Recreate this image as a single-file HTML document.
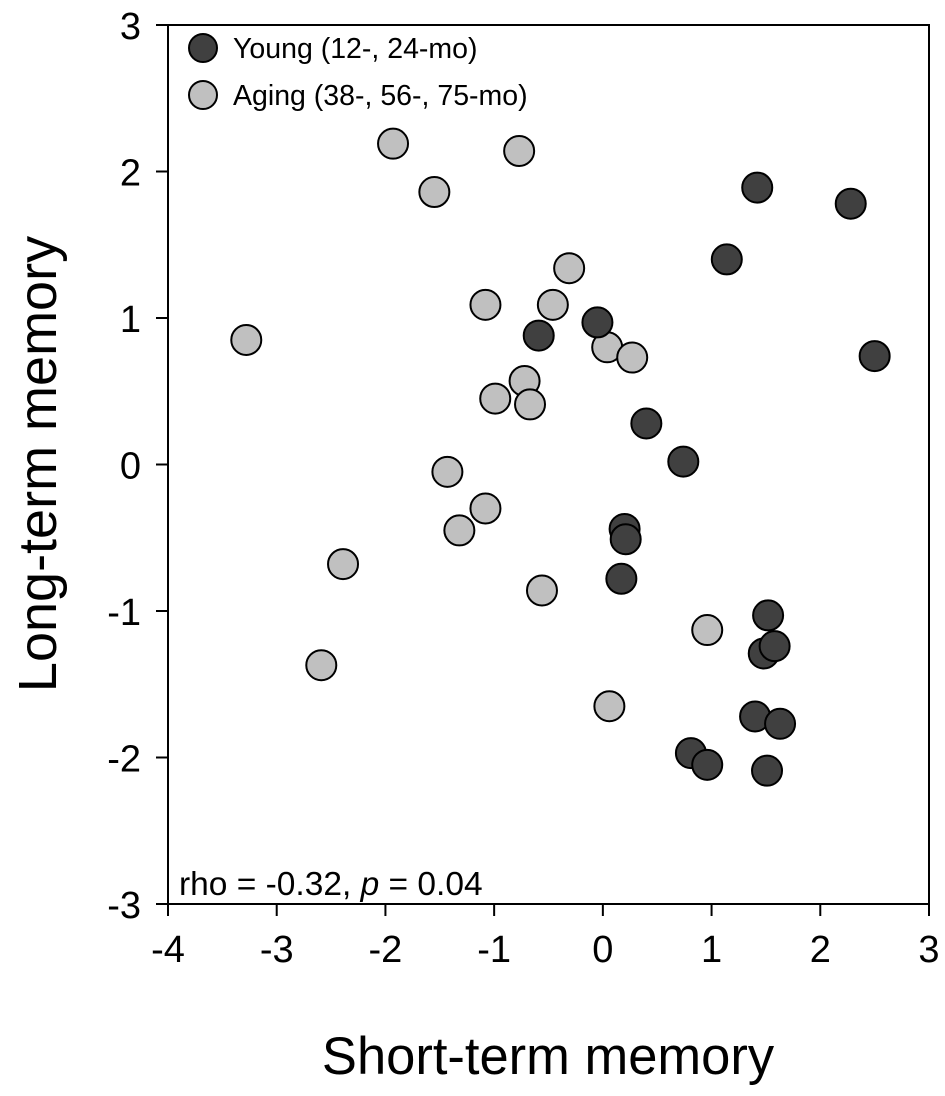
<!DOCTYPE html>
<html><head><meta charset="utf-8"><style>
body{margin:0;background:#fff}
svg text{font-family:"Liberation Sans",Arial,sans-serif;fill:#000}
</style></head><body>
<svg id="chart" width="945" height="1091" viewBox="0 0 945 1091" xmlns="http://www.w3.org/2000/svg">
<g id="axes"></g><g id="pts"></g>
<g>
<circle cx="203" cy="48" r="14" fill="#404040" stroke="#000" stroke-width="2"/>
<text x="233" y="58" font-size="28.5">Young (12-, 24-mo)</text>
<circle cx="203" cy="95" r="14" fill="#c0c0c0" stroke="#000" stroke-width="2"/>
<text x="233" y="105" font-size="28.5">Aging (38-, 56-, 75-mo)</text>
</g>
<text x="179" y="895" font-size="33.5">rho = -0.32, <tspan font-style="italic">p</tspan> = 0.04</text>
<text x="548" y="1074" font-size="52.5" text-anchor="middle">Short-term memory</text>
<text transform="translate(56,464) rotate(-90)" font-size="54" text-anchor="middle">Long-term memory</text>
</svg>
<script>
const youngX=[1.42,2.28,1.14,2.50,-0.05,-0.59,0.40,0.74,0.20,0.21,0.17,1.52,1.48,1.58,1.40,1.63,0.81,0.96,1.51];
const youngY=[1.89,1.78,1.40,0.74,0.97,0.88,0.28,0.02,-0.44,-0.51,-0.78,-1.03,-1.29,-1.24,-1.72,-1.77,-1.97,-2.05,-2.09];
const agingX=[-1.93,-0.77,-1.55,-0.31,-1.08,-0.46,-3.28,-0.72,-0.99,-0.67,-1.43,-1.08,-1.32,-2.39,-0.56,-2.59,0.04,0.27,0.96,0.06];
const agingY=[2.19,2.14,1.86,1.34,1.09,1.09,0.85,0.57,0.45,0.41,-0.05,-0.30,-0.45,-0.68,-0.86,-1.37,0.80,0.73,-1.13,-1.65];
const xTicks=[-4,-3,-2,-1,0,1,2,3];
const yTicks=[-3,-2,-1,0,1,2,3];
const L=168,R=929,T=25,B=904;
const sx=v=>L+(v+4)/7*(R-L);
const sy=v=>B-(v+3)/6*(B-T);
const NS="http://www.w3.org/2000/svg";
const ax=document.getElementById('axes'),pg=document.getElementById('pts');
function mk(p,tag,at){const e=document.createElementNS(NS,tag);for(const k in at)e.setAttribute(k,at[k]);p.appendChild(e);return e;}
const fr=mk(ax,'rect',{x:L,y:T,width:R-L,height:B-T,fill:'none',stroke:'#000','stroke-width':2});


xTicks.forEach(v=>{
 const l=mk(ax,'line',{x1:sx(v),x2:sx(v),y1:B,y2:B+12,stroke:'#000','stroke-width':2});
 
 
 const t=mk(ax,'text',{x:sx(v),y:B+58,'font-size':38,'text-anchor':'middle'});t.textContent=v;
 
 
});
yTicks.forEach(v=>{
 const l=mk(ax,'line',{x1:L-12,x2:L,y1:sy(v),y2:sy(v),stroke:'#000','stroke-width':2});
 
 
 const t=mk(ax,'text',{x:L-27,y:sy(v)+14,'font-size':38,'text-anchor':'end'});t.textContent=v;
 
 
});
agingX.forEach((v,i)=>{
 const c=mk(pg,'circle',{cx:sx(v),cy:sy(agingY[i]),r:15,fill:'#c0c0c0',stroke:'#000','stroke-width':2});
 
 
});
youngX.forEach((v,i)=>{
 const c=mk(pg,'circle',{cx:sx(v),cy:sy(youngY[i]),r:15,fill:'#404040',stroke:'#000','stroke-width':2});
 
 
});
</script>
</body></html>
